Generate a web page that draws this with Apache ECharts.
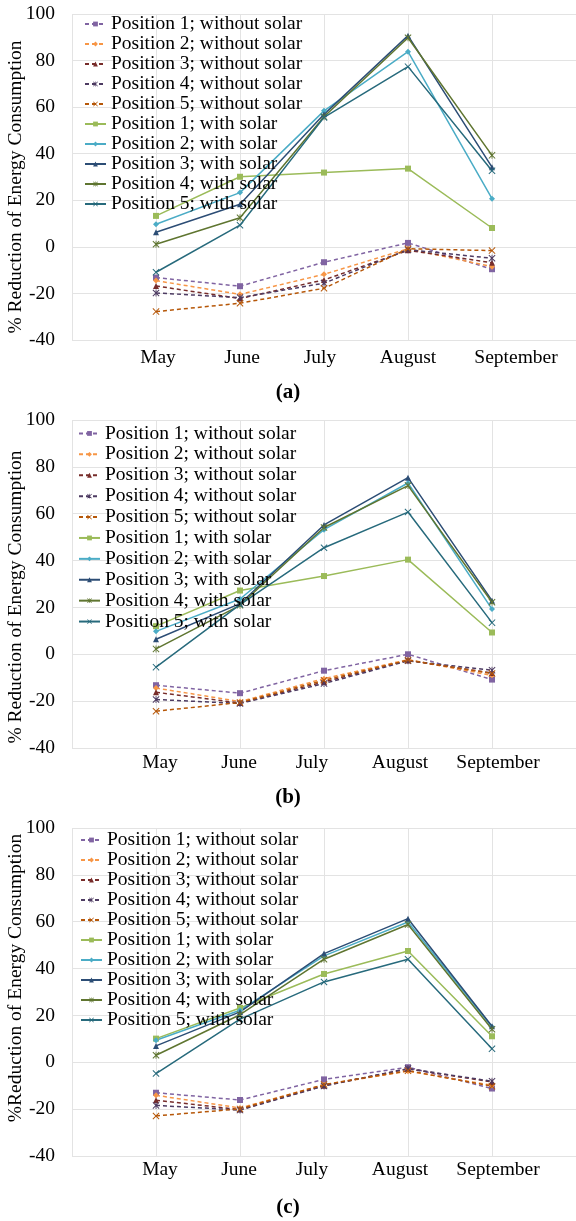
<!DOCTYPE html>
<html>
<head>
<meta charset="utf-8">
<title>% Reduction of Energy Consumption</title>
<script src="https://cdn.jsdelivr.net/npm/echarts@6/dist/echarts.min.js"></script>
<style>
  html, body { margin: 0; padding: 0; background: #fff; }
  .chart { position: absolute; left: 0; width: 576px; }
</style>
</head>
<body>
<div id="chartA" class="chart" style="top:0;height:410px"></div>
<div id="chartB" class="chart" style="top:410px;height:405px"></div>
<div id="chartC" class="chart" style="top:815px;height:406px"></div>
<script>
// categories (blank slots at both ends, like the original plot)
var months = ['May', 'June', 'July', 'August', 'September']
var positions = ['Position 1', 'Position 2', 'Position 3', 'Position 4', 'Position 5']

// panel (a)
var aWithout = [
  [-13.2, -16.9, -6.6, 1.7, -9.6],
  [-14.5, -20.4, -11.8, -0.8, -8.5],
  [-16.8, -22.2, -14.2, -1.5, -6.8],
  [-19.8, -21.8, -15.6, -1.2, -4.9],
  [-27.8, -24.2, -17.8, -0.8, -1.6]
]
var aWith = [
  [13.3, 30.1, 31.9, 33.6, 8.1],
  [9.7, 23.3, 58.4, 83.8, 20.7],
  [6.3, 18.3, 56.9, 90.7, 34.2],
  [1.1, 12.5, 55.9, 89.8, 39.3],
  [-10.9, 9.3, 55.6, 77.4, 32.7]
]

// panel (b)
var bWithout = [
  [-13.2, -16.6, -7.0, 0.0, -10.8],
  [-14.4, -20.2, -10.4, -2.3, -9.0],
  [-16.2, -20.8, -11.8, -2.6, -8.0],
  [-19.3, -21.0, -12.5, -2.8, -6.8],
  [-24.3, -20.6, -11.1, -2.5, -8.2]
]
var bWith = [
  [12.0, 27.2, 33.4, 40.4, 9.3],
  [9.8, 23.6, 53.2, 73.1, 19.3],
  [6.4, 21.6, 55.2, 75.4, 22.9],
  [2.3, 20.9, 54.1, 72.0, 22.2],
  [-5.5, 21.2, 45.5, 60.7, 13.5]
]

// panel (c)
var cWithout = [
  [-13.0, -16.1, -7.3, -2.1, -11.2],
  [-14.1, -19.5, -9.6, -3.8, -9.8],
  [-16.2, -20.2, -10.0, -2.8, -8.4],
  [-18.4, -20.4, -10.1, -2.7, -8.1],
  [-22.9, -19.9, -9.5, -3.6, -10.2]
]
var cWith = [
  [10.1, 23.2, 37.7, 47.5, 11.1],
  [9.4, 22.2, 45.4, 59.9, 15.1],
  [7.0, 21.5, 46.4, 61.3, 15.4],
  [3.0, 20.3, 44.0, 58.8, 14.1],
  [-4.8, 18.4, 34.3, 44.0, 5.8]
]

var withoutColors = ['#8064A2', '#F79646', '#772C2A', '#4D3B62', '#B65708']
var withColors = ['#9BBB59', '#4BACC6', '#2C4D75', '#5F7530', '#276A7C']

var X_PATH = 'path://M1,0 L5,4 L9,0 L10,1 L6,5 L10,9 L9,10 L5,6 L1,10 L0,9 L4,5 L0,1 Z'
var STAR_PATH = X_PATH + ' M4.4,0 L5.6,0 L5.6,10 L4.4,10 Z'
var symbols = ['rect', 'diamond', 'triangle', STAR_PATH, X_PATH]

var FONT = 'Liberation Serif, Times New Roman, serif'

function makeSeries(rows, colors, suffix, dashed) {
  return rows.map(function (vals, i) {
    return {
      name: positions[i] + suffix,
      type: 'line',
      data: [null].concat(vals, [null]),
      symbol: symbols[i],
      symbolSize: i > 2 ? 7 : 6,
      color: colors[i],
      lineStyle: { color: colors[i], width: 1.5, type: dashed ? [4, 3] : 'solid' },
      itemStyle: { color: colors[i] },
      animation: false
    }
  })
}

// small horizontal nudges of the month labels (the original labels are not exactly centred)
function labelRich(shifts) {
  var rich = {}
  shifts.forEach(function (d, i) {
    rich['m' + (i + 1)] = { padding: d >= 0 ? [0, 0, 0, 2 * d] : [0, -2 * d, 0, 0] }
  })
  return rich
}

function buildOption(p) {
  var series = makeSeries(p.without, withoutColors, '; without solar', true)
    .concat(makeSeries(p.withSolar, withColors, '; with solar', false))
  return {
    animation: false,
    title: {
      text: p.label,
      left: 'center',
      top: p.labelTop,
      padding: 0,
      textStyle: { fontFamily: FONT, fontSize: 21, fontWeight: 'bold', color: '#000' }
    },
    grid: { left: 72, right: 0, top: p.top, bottom: p.bottom, containLabel: false, outerBoundsMode: 'none' },
    legend: {
      orient: 'vertical',
      left: p.legendLeft,
      top: p.legendTop,
      padding: 0,
      itemWidth: 21,
      itemHeight: 6,
      itemGap: 0,
      selectedMode: false,
      textStyle: { fontFamily: FONT, fontSize: 19.5, color: '#000', lineHeight: p.rowH },
      data: series.map(function (s) { return s.name })
    },
    xAxis: {
      type: 'category',
      data: [''].concat(months, ['']),
      boundaryGap: false,
      axisLine: { show: false },
      axisTick: { show: false },
      axisLabel: {
        interval: 0, margin: p.xMargin, fontFamily: FONT, fontSize: 19.5, color: '#000',
        formatter: function (value, index) {
          return value ? '{m' + index + '|' + value + '}' : ''
        },
        rich: labelRich(p.labelShift)
      },
      splitLine: { show: true, lineStyle: { color: '#E3E3E3', width: 1 } }
    },
    yAxis: {
      type: 'value',
      min: -40,
      max: 100,
      interval: 20,
      name: p.yName,
      nameLocation: 'middle',
      nameGap: 46,
      nameMoveOverlap: false,
      nameTextStyle: { fontFamily: FONT, fontSize: 19.5, color: '#000', padding: p.namePad },
      axisLine: { show: false },
      axisTick: { show: false },
      axisLabel: { margin: 17, fontFamily: FONT, fontSize: 19.5, color: '#000' },
      splitLine: { show: true, lineStyle: { color: '#E3E3E3', width: 1 } }
    },
    series: series
  }
}

var panels = [
  { id: 'chartA', without: aWithout, withSolar: aWith, label: '(a)', labelTop: 382,
    top: 14, bottom: 70, legendLeft: 84, legendTop: 14, rowH: 20, xMargin: 8,
    labelShift: [2, 2, -4, 0, 24],
    yName: '% Reduction of Energy Consumption', namePad: [0, 20, 0, 0] },
  { id: 'chartB', without: bWithout, withSolar: bWith, label: '(b)', labelTop: 377,
    top: 10, bottom: 67, legendLeft: 78, legendTop: 13, rowH: 20.9, xMargin: 5,
    labelShift: [4, -1, -12, -8, 6],
    yName: '% Reduction of Energy Consumption', namePad: [0, 26, 0, 0] },
  { id: 'chartC', without: cWithout, withSolar: cWith, label: '(c)', labelTop: 382,
    top: 13, bottom: 65, legendLeft: 80, legendTop: 15, rowH: 19.4, xMargin: 4,
    labelShift: [4, -1, -12, -8, 6],
    yName: '%Reduction of Energy Consumption', namePad: [0, 0, 0, 28] }
]

panels.forEach(function (p) {
  var chart = echarts.init(document.getElementById(p.id), null, { renderer: 'canvas' })
  chart.setOption(buildOption(p))
})
</script>
</body>
</html>
